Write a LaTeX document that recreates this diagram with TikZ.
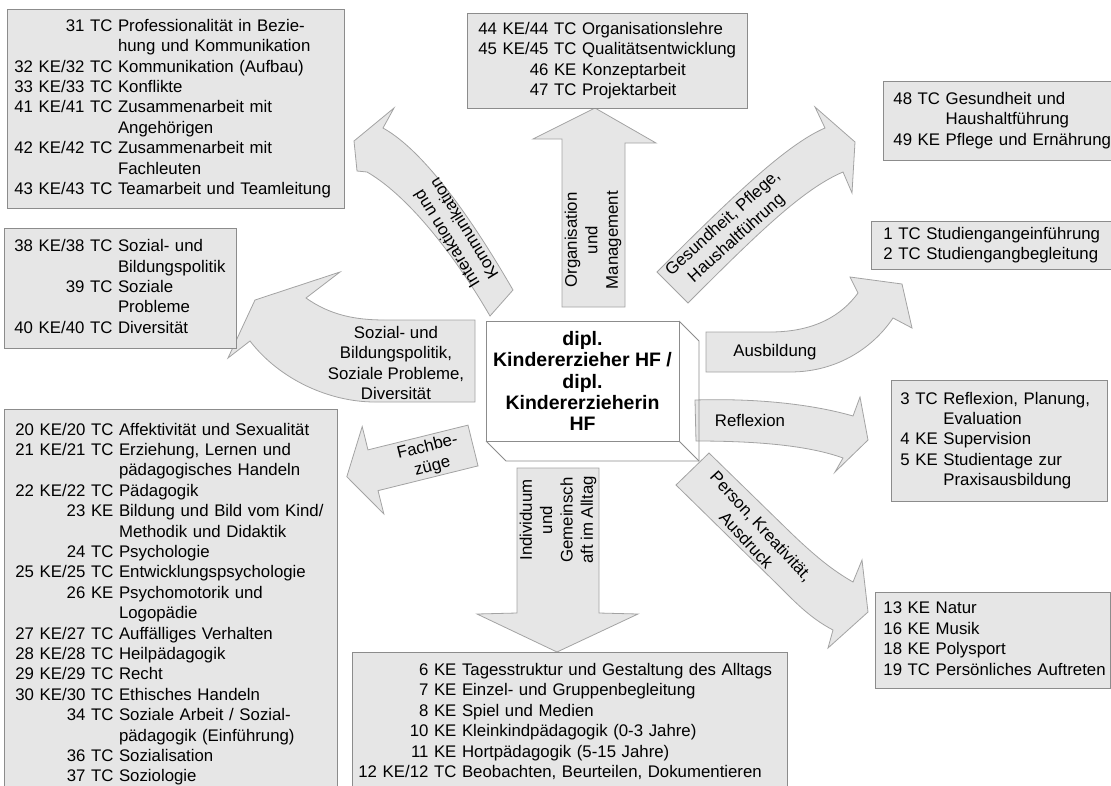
\documentclass[tikz,border=0pt]{standalone}
\usepackage{fontspec}
\setmainfont{Liberation Sans}
\usepackage{tikz}
\usetikzlibrary{positioning,calc}

\definecolor{panelfill}{HTML}{E6E6E6}
\definecolor{panelline}{HTML}{8C8C8C}
\definecolor{arrowline}{HTML}{A3A3A3}

\newcommand{\listfont}{\fontsize{16.8}{20.4}\selectfont}
\newcommand{\titlefont}{\fontsize{19.5}{21.2}\selectfont\bfseries}
\newcommand{\modlist}[1]{\begin{tabular}{@{}r@{\ }l@{}}#1\end{tabular}}

\begin{document}
\begin{tikzpicture}[x=1pt,y=-1pt,
		panel/.style={draw=panelline, fill=panelfill, line width=0.8pt, anchor=north west, inner ysep=0pt, align=left, font=\listfont},
		blockarrow/.style={draw=arrowline, fill=panelfill, line width=0.8pt, line join=miter},
		arrowtext/.style={font=\listfont, align=center, inner sep=0pt}]
		\path[use as bounding box, clip] (0,0) rectangle (1111,785);
		
		\draw[blockarrow] (562,307) -- (562,139) -- (533,139) -- (595,108) -- (656,143) -- (625,143) -- (625,307) -- cycle;
		\node[arrowtext, rotate=90] (orglabel) at (593,240) {Organisation\\und\\Management};
		
		\draw[blockarrow] (517,468) -- (599,468) -- (599,613) -- (638,614) -- (557,652) -- (477,614) -- (517,613) -- cycle;
		\node[arrowtext, rotate=90] (alltaglabel) at (558,520) {Individuum\\und\\Gemeinsch\\aft im Alltag};
		
		\begin{scope}[shift={(473,445.5)}, rotate=193.9]
			\draw[blockarrow] (0,-21) -- (103,-21) -- (103,-45) -- (130,0) -- (103,45) -- (103,21) -- (0,21) -- cycle;
		\end{scope}
		\node[arrowtext, rotate=14] (fachlabel) at (430,457) {Fachbe-\\züge};
		
		\draw[blockarrow] (513,290) .. controls (483,238) and (430,154) .. (383,128) -- (394,108) -- (354,141) -- (357,171) -- (367,172) .. controls (412,198) and (460,264) .. (490,316) -- cycle;
		\node[arrowtext, rotate=121.5] (komlabel) at (455,234) {Interaktion und\\Kommunikation};
		
		\draw[blockarrow] (475,320) -- (475,402) -- (375,402) .. controls (330,402) and (280,380) .. (250,341) -- (228,358) -- (255,300) -- (340,272) -- (306,298) .. controls (330,315) and (355,320) .. (385,320) -- cycle;
		\node[arrowtext] (soziallabel) at (396,363) {Sozial- und\\Bildungspolitik,\\Soziale Probleme,\\Diversität};
		
		\draw[blockarrow] (657,272) .. controls (727,202) and (785,145) .. (825,128) -- (815,107) -- (855,142) -- (852,193) -- (843,172) .. controls (803,189) and (758,233) .. (688,303) -- cycle;
		\node[arrowtext, rotate=42] (gesundlabel) at (730,231) {Gesundheit, Pflege,\\Haushaltführung};
		
		\draw[blockarrow] (706,332) -- (706,372) -- (790,372) .. controls (840,372) and (875,345) .. (893,318) -- (912,328) -- (902,284) -- (850,277) -- (858,293) .. controls (842,315) and (815,332) .. (770,332) -- cycle;
		\node[arrowtext] (ausbildlabel) at (775,352) {Ausbildung};
		
		\draw[blockarrow] (695,400) .. controls (760,398) and (815,405) .. (853,416) -- (860,397) -- (868,440) -- (835,472) -- (843,458) .. controls (810,446) and (760,441) .. (696,441) -- cycle;
		\node[arrowtext] (reflexlabel) at (750,420) {Reflexion};
		
		\draw[blockarrow] (709,453) -- (790,532) .. controls (815,556) and (832,570) .. (853,582) -- (862,560) -- (868,612) -- (828,648) -- (833,630) .. controls (810,618) and (795,602) .. (778,585) -- (676,485) -- cycle;
		\node[arrowtext, rotate=-47.5] (personlabel) at (754,533) {Person, Kreativität,\\Ausdruck};
		
		\node[draw=panelline, fill=white, line width=0.8pt, minimum width=193pt, minimum height=120pt, inner sep=0pt, outer sep=0pt, align=center, font=\titlefont] (title) at (582.5,381) {dipl.\\Kindererzieher HF /\\dipl.\\Kindererzieherin\\HF};
		\draw[draw=panelline, line width=0.8pt] (title.north east) -- ++(20,20) -- ++(0,120) -- ++(-193,0) -- (title.south west);
		\draw[draw=panelline, line width=0.8pt] (title.south east) -- ++(20,20);
		
		\node[panel, inner xsep=7pt, text width=323pt, minimum height=199pt] (relbox) at (7,9) {\modlist{
			31 TC & Professionalität in Bezie-\\
			& hung und Kommunikation\\
			32 KE/32 TC & Kommunikation (Aufbau)\\
			33 KE/33 TC & Konflikte\\
			41 KE/41 TC & Zusammenarbeit mit\\
			& Angehörigen\\
			42 KE/42 TC & Zusammenarbeit mit\\
			& Fachleuten\\
			43 KE/43 TC & Teamarbeit und Teamleitung}};
		
		\node[panel, inner xsep=11pt, text width=258pt, minimum height=95pt] (orgbox) at (467,13) {\modlist{
			44 KE/44 TC & Organisationslehre\\
			45 KE/45 TC & Qualitätsentwicklung\\
			46 KE & Konzeptarbeit\\
			47 TC & Projektarbeit}};
		
		\node[panel, inner xsep=10pt, text width=210pt, minimum height=79pt] (healthbox) at (883,81) {\modlist{
			48 TC & Gesundheit und\\
			& Haushaltführung\\
			49 KE & Pflege und Ernährung}};
		
		\node[panel, inner xsep=12pt, text width=218pt, minimum height=48pt] (studybox) at (871,221) {\modlist{
			1 TC & Studiengangeinführung\\
			2 TC & Studiengangbegleitung}};
		
		\node[panel, inner xsep=9pt, text width=198pt, minimum height=121pt] (reflexbox) at (891,380) {\modlist{
			3 TC & Reflexion, Planung,\\
			& Evaluation\\
			4 KE & Supervision\\
			5 KE & Studientage zur\\
			& Praxisausbildung}};
		
		\node[panel, inner xsep=8pt, text width=219pt, minimum height=96pt] (personbox) at (875,592) {\modlist{
			13 KE & Natur\\
			16 KE & Musik\\
			18 KE & Polysport\\
			19 TC & Persönliches Auftreten}};
		
		\node[panel, inner xsep=6pt, text width=423pt, minimum height=140pt] (alltagbox) at (352,652) {\modlist{
			6 KE & Tagesstruktur und Gestaltung des Alltags\\
			7 KE & Einzel- und Gruppenbegleitung\\
			8 KE & Spiel und Medien\\
			10 KE & Kleinkindpädagogik (0-3 Jahre)\\
			11 KE & Hortpädagogik (5-15 Jahre)\\
			12 KE/12 TC & Beobachten, Beurteilen, Dokumentieren}};
		
		\node[panel, inner xsep=10pt, text width=212pt, minimum height=120pt] (socialbox) at (4,228) {\modlist{
			38 KE/38 TC & Sozial- und\\
			& Bildungspolitik\\
			39 TC & Soziale\\
			& Probleme\\
			40 KE/40 TC & Diversität}};
		
		\node[panel, inner xsep=11pt, text width=311pt, minimum height=390pt] (fachbox) at (4,409) {\modlist{
			20 KE/20 TC & Affektivität und Sexualität\\
			21 KE/21 TC & Erziehung, Lernen und\\
			& pädagogisches Handeln\\
			22 KE/22 TC & Pädagogik\\
			23 KE & Bildung und Bild vom Kind/\\
			& Methodik und Didaktik\\
			24 TC & Psychologie\\
			25 KE/25 TC & Entwicklungspsychologie\\
			26 KE & Psychomotorik und\\
			& Logopädie\\
			27 KE/27 TC & Auffälliges Verhalten\\
			28 KE/28 TC & Heilpädagogik\\
			29 KE/29 TC & Recht\\
			30 KE/30 TC & Ethisches Handeln\\
			34 TC & Soziale Arbeit / Sozial-\\
			& pädagogik (Einführung)\\
			36 TC & Sozialisation\\
			37 TC & Soziologie}};
	\end{tikzpicture}
\end{document}
